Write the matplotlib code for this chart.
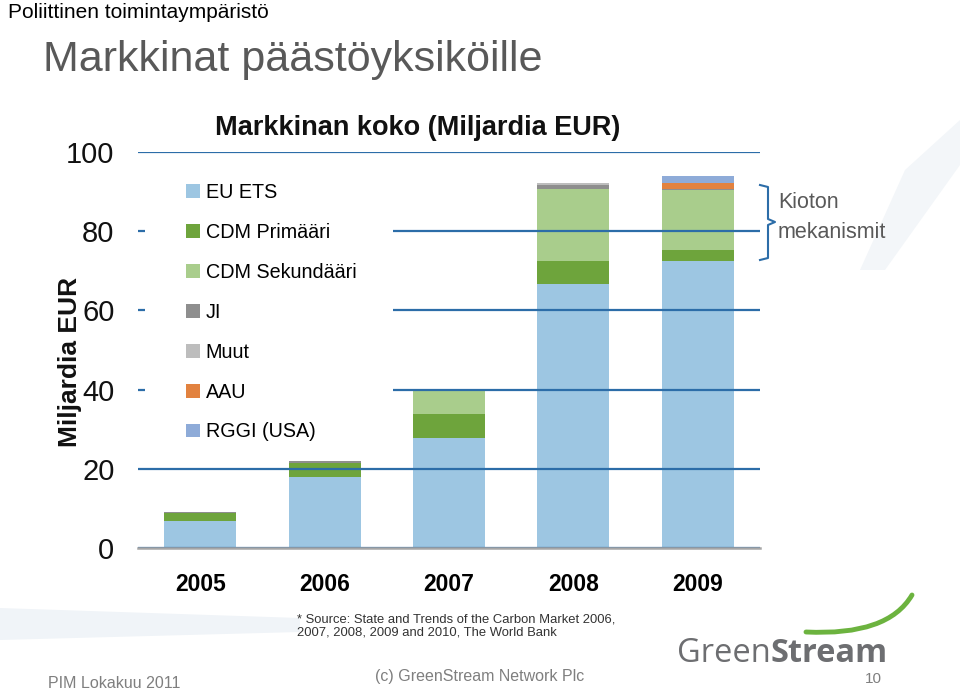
import matplotlib
matplotlib.use("Agg")
import matplotlib.pyplot as plt
import numpy as np
from matplotlib.lines import Line2D
from matplotlib.patches import PathPatch, Polygon, Rectangle
from matplotlib.path import Path

# data (Miljardia EUR)
years = ["2005", "2006", "2007", "2008", "2009"]
eu_ets = [6.9, 18.0, 27.9, 66.7, 72.6]
cdm_primaari = [2.0, 3.5, 5.9, 5.9, 2.7]
cdm_sekundaari = [0.0, 0.0, 5.9, 18.1, 15.0]
ji = [0.2, 0.4, 0.3, 1.0, 0.4]
muut = [0.0, 0.1, 0.0, 0.4, 0.0]
aau = [0.0, 0.0, 0.0, 0.0, 1.5]
rggi = [0.0, 0.0, 0.0, 0.0, 1.8]

series = [
    ("EU ETS", eu_ets, "#9dc6e2"),
    ("CDM Primääri", cdm_primaari, "#6ea43c"),
    ("CDM Sekundääri", cdm_sekundaari, "#a9cd8c"),
    ("JI", ji, "#8e8e8e"),
    ("Muut", muut, "#bdbdbd"),
    ("AAU", aau, "#e2823f"),
    ("RGGI (USA)", rggi, "#8eabd8"),
]

W, H = 960, 689
ARIAL = ["Liberation Sans", "DejaVu Sans"]
GRID = "#2c6da8"


def fx(x):
    return x / W


def fy(y):
    return 1 - y / H


fig = plt.figure(figsize=(W / 100, H / 100), dpi=100)
fig.patch.set_facecolor("white")

# faint background swooshes
fig.add_artist(Polygon([(fx(0), fy(608)), (fx(300), fy(618)), (fx(300), fy(632)),
                        (fx(0), fy(640))], closed=True, transform=fig.transFigure,
                       facecolor="#f0f4f8", edgecolor="none", zorder=0))
fig.add_artist(Polygon([(fx(905), fy(170)), (fx(960), fy(120)), (fx(960), fy(165)),
                        (fx(885), fy(270)), (fx(860), fy(270))], closed=True,
                       transform=fig.transFigure, facecolor="#f3f6f9",
                       edgecolor="none", zorder=0))

ax_l, ax_r, ax_b, ax_t = 138, 760, 548, 152
ax = fig.add_axes([fx(ax_l), fy(ax_b), fx(ax_r) - fx(ax_l), fy(ax_t) - fy(ax_b)])
x = np.arange(len(years))
bottom = np.zeros(len(years))
for name, vals, col in series:
    ax.bar(x, vals, width=0.58, bottom=bottom, color=col, label=name,
           linewidth=0, zorder=1)
    bottom += np.array(vals)

ax.set_xlim(-0.5, len(years) - 0.5)
ax.set_ylim(0, 100)
ax.set_yticks([0, 20, 40, 60, 80, 100])
ax.set_axisbelow(False)
ax.yaxis.grid(True, color=GRID, linewidth=1.6)
ax.xaxis.grid(False)
for s in ["top", "right", "left"]:
    ax.spines[s].set_visible(False)
ax.spines["bottom"].set_color("#a6a6a6")
ax.spines["bottom"].set_linewidth(1.8)
ax.spines["bottom"].set_zorder(3)
ax.tick_params(axis="y", length=0, pad=17, labelsize=21, labelcolor="#111111")
ax.tick_params(axis="x", length=0, pad=18)
ax.set_xticks(x)
ax.set_xticklabels(years, fontsize=16.5, fontweight="bold", family=ARIAL)
for t in ax.get_yticklabels():
    t.set_family(ARIAL)


def ax_x(px):
    return (px - ax_l) / (ax_r - ax_l)


def ax_y(py):
    return (ax_b - py) / (ax_b - ax_t)


# white box behind the legend hides the gridlines there
ax.add_patch(Rectangle((ax_x(145), ax_y(455)), ax_x(393) - ax_x(145),
                       ax_y(165) - ax_y(455), transform=ax.transAxes,
                       facecolor="white", edgecolor="none", zorder=4))

leg = ax.legend(loc="upper left", bbox_to_anchor=(ax_x(186), ax_y(183)),
                frameon=False, prop={"family": ARIAL, "size": 14.2},
                handlelength=0.7, handleheight=0.7, handletextpad=0.3,
                labelspacing=1.06, borderpad=0, borderaxespad=0)
leg.set_zorder(5)

# y label
fig.text(fx(70), fy(362), "Miljardia EUR", rotation=90, ha="center", va="center",
         fontsize=19, fontweight="bold", family=ARIAL, color="#111111")

# chart title
fig.text(fx(418), fy(128), "Markkinan koko (Miljardia EUR)", ha="center", va="center",
         fontsize=19.5, fontweight="bold", family=ARIAL, color="#111111")

# slide header
fig.text(fx(8), fy(12), "Poliittinen toimintaympäristö", ha="left", va="center",
         fontsize=15, family=ARIAL, color="#000000")
fig.text(fx(43), fy(60), "Markkinat päästöyksiköille", ha="left", va="center",
         fontsize=31, family=ARIAL, color="#595959")

# bracket for Kyoto mechanisms
bx = [fx(760), fx(768), fx(768), fx(775), fx(768), fx(768), fx(760)]
by = [fy(185), fy(187), fy(219), fy(222), fy(225), fy(258), fy(260)]
fig.add_artist(Line2D(bx, by, transform=fig.transFigure, color=GRID, linewidth=1.5))
fig.text(fx(778), fy(203), "Kioton", ha="left", va="center", fontsize=15.5,
         family=ARIAL, color="#595959")
fig.text(fx(778), fy(233), "mekanismit", ha="left", va="center", fontsize=15.5,
         family=ARIAL, color="#595959")

# source
fig.text(fx(297), fy(626), "* Source: State and Trends of the Carbon Market 2006,\n"
         "2007, 2008, 2009 and 2010, The World Bank", ha="left", va="center",
         fontsize=9.4, family=ARIAL, color="#333333", linespacing=1.2)

# footer
fig.text(fx(480), fy(677), "(c) GreenStream Network Plc", ha="center", va="center",
         fontsize=11.5, family=ARIAL, color="#7f7f7f")
fig.text(fx(48), fy(683), "PIM Lokakuu 2011", ha="left", va="center",
         fontsize=11.5, family=ARIAL, color="#7f7f7f")
fig.text(fx(873), fy(679), "10", ha="center", va="center",
         fontsize=11, family=ARIAL, color="#7f7f7f")

# logo
g = fig.text(fx(677), fy(662), "Green", ha="left", va="baseline", fontsize=23.5,
             family=["Open Sans", "DejaVu Sans"], color="#6d6e71")
fig.canvas.draw()
bb = g.get_window_extent()
fig.text(bb.x1 / W, fy(662), "Stream", ha="left", va="baseline", fontsize=23.5,
         fontweight="bold", family=["Open Sans", "DejaVu Sans"], color="#6d6e71")
arc = Path([(fx(806), fy(632)), (fx(888), fy(636)), (fx(912), fy(595))],
           [Path.MOVETO, Path.CURVE3, Path.CURVE3])
fig.add_artist(PathPatch(arc, transform=fig.transFigure, facecolor="none",
                         edgecolor="#6cb33f", linewidth=3.5, capstyle="round"))

fig.savefig("out.png", dpi=100)
